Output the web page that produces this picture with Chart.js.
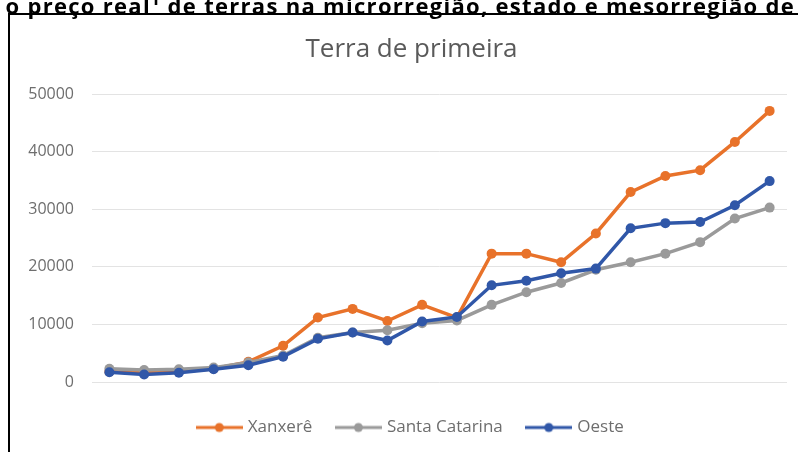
<!DOCTYPE html>
<html>
<head>
<meta charset="utf-8">
<script src="https://cdn.jsdelivr.net/npm/chart.js@4.4.1/dist/chart.umd.min.js"></script>
<style>
  html, body { margin: 0; padding: 0; background: #fff; overflow: hidden; }
  body { width: 798px; height: 452px; position: relative; }
  #heading {
    position: absolute; right: 3px; top: -10px; white-space: nowrap;
    font-family: "Open Sans", sans-serif; font-weight: 700; font-size: 22px;
    letter-spacing: 1.3px; color: #000;
  }
  #box {
    position: absolute; left: 8px; top: 13px; width: 820px; height: 460px;
    border: 2px solid #000; box-sizing: border-box;
  }
  #wrap { position: absolute; left: 0; top: 0; width: 806px; height: 437px; }
</style>
</head>
<body>
<div id="box"><div id="wrap"><canvas id="line-chart"></canvas></div></div>
<div id="heading">o preço real¹ de terras na microrregião, estado e mesorregião de</div>
<script>
// Terra de primeira - price series (20 periods, axis labels not shown)
const periods = ["1", "2", "3", "4", "5", "6", "7", "8", "9", "10",
                 "11", "12", "13", "14", "15", "16", "17", "18", "19", "20"];
const xanxere = [1800, 1600, 1800, 2300, 3500, 6300, 11200, 12700, 10600, 13400,
                 11200, 22300, 22300, 20800, 25800, 33000, 35800, 36800, 41700, 47100];
const santaCatarina = [2300, 2100, 2200, 2500, 3400, 4600, 7700, 8600, 9000, 10200,
                       10700, 13400, 15600, 17200, 19500, 20800, 22300, 24300, 28400, 30300];
const oeste = [1700, 1300, 1600, 2200, 2900, 4400, 7500, 8600, 7200, 10500,
               11300, 16800, 17600, 18900, 19700, 26700, 27600, 27800, 30700, 34900];
const yTicks = [0, 10000, 20000, 30000, 40000, 50000];

const seriesNames = ["Xanxerê", "Santa Catarina", "Oeste"];
const seriesColors = ['#E8722A', '#9A9A9A', '#3057A8'];

// legend marker: line with a dot in the middle, like excel
function legendMark(color) {
    const c = document.createElement('canvas');
    c.width = 47; c.height = 12;
    const g = c.getContext('2d');
    g.strokeStyle = color; g.lineWidth = 3;
    g.beginPath(); g.moveTo(0, 6); g.lineTo(47, 6); g.stroke();
    g.fillStyle = color;
    g.beginPath(); g.arc(23.5, 6, 4.5, 0, Math.PI * 2); g.fill();
    return c;
}

function makeSet(i, values, order) {
    return {
        label: seriesNames[i],
        data: values,
        yAxisID: 'y',
        borderColor: seriesColors[i],
        backgroundColor: seriesColors[i],
        borderWidth: 3.5,
        pointRadius: 5,
        pointHoverRadius: 5,
        pointBorderWidth: 0,
        tension: 0,
        order: order
    };
}

const ctx = document.getElementById('line-chart').getContext('2d');
const chart = new Chart(ctx, {
    type: 'line',
    data: {
        labels: periods,
        datasets: [
            makeSet(0, xanxere, 3),
            makeSet(1, santaCatarina, 2),
            makeSet(2, oeste, 1)
        ]
    },
    options: {
        responsive: true,
        maintainAspectRatio: false,
        animation: false,
        layout: { padding: { left: 15, right: 18, top: 0, bottom: 6 } },
        scales: {
            x: {
                display: true, offset: true,
                ticks: { display: false },
                grid: { display: false },
                border: { display: false },
                afterFit: (axis) => { axis.height = 11; }
            },
            y: {
                min: 0, max: 50000,
                afterBuildTicks: (axis) => { axis.ticks = yTicks.map(v => ({ value: v })); },
                afterFit: (axis) => { axis.width = 67; },
                border: { display: false },
                grid: { color: '#E3E3E3', lineWidth: 1, drawTicks: false },
                ticks: {
                    color: '#6E6E6E',
                    padding: 18,
                    callback: (v) => String(v),
                    font: { family: "'Open Sans', sans-serif", size: 16 }
                }
            },
            // empty spacer on the right so title and legend centre like the original
            spacer: {
                type: 'linear', position: 'right', display: true,
                ticks: { display: false },
                grid: { display: false },
                border: { display: false },
                afterFit: (axis) => { axis.width = 11; }
            }
        },
        plugins: {
            title: {
                display: true,
                text: 'Terra de primeira',
                color: '#5A5A5A',
                font: { family: "'Open Sans', sans-serif", size: 26, weight: 'normal' },
                padding: { top: 19, bottom: 29 }
            },
            legend: {
                position: 'bottom',
                labels: {
                    usePointStyle: true,
                    pointStyleWidth: 40,
                    padding: 26,
                    color: '#6E6E6E',
                    font: { family: "'Open Sans', sans-serif", size: 17 },
                    generateLabels: (ch) => seriesNames.map((name, i) => ({
                        text: name,
                        datasetIndex: i,
                        pointStyle: legendMark(seriesColors[i]),
                        fontColor: '#6E6E6E',
                        lineWidth: 0,
                        hidden: false
                    }))
                }
            },
            tooltip: { enabled: false }
        }
    }
});
</script>
</body>
</html>
